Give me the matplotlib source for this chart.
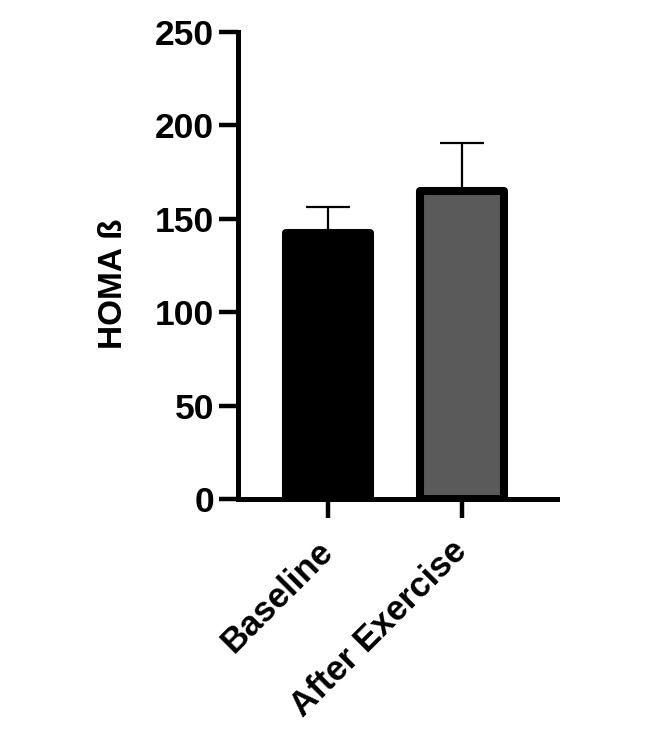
import numpy as np
import matplotlib
matplotlib.use('Agg')
import matplotlib.pyplot as plt

categories = ['Baseline', 'After Exercise']
means = [142.5, 164.8]
errors_up = [14.0, 25.7]
fill_colors = ['#000000', '#5a5a5a']
y_ticks = [0, 50, 100, 150, 200, 250]

plt.rcParams['font.family'] = ['Liberation Sans', 'DejaVu Sans']
plt.rcParams['font.weight'] = 'bold'

fig = plt.figure(figsize=(6.61, 7.38), dpi=100)
ax = fig.add_axes([0.3596, 0.3238, 0.4830, 0.6328])

x = np.arange(len(categories))
bars = ax.bar(x, means, width=0.63, color=fill_colors, edgecolor='black',
              linewidth=5.8, zorder=3)
for b in bars:
    b.set_joinstyle('round')
    b.set_capstyle('round')

ax.errorbar(x, means, yerr=[np.zeros(len(means)), errors_up], fmt='none',
            ecolor='black', elinewidth=1.6, capsize=16, capthick=1.6, zorder=2)

ax.set_xlim(-0.676, 1.707)
ax.set_ylim(0, 250)
ax.set_yticks(y_ticks)
ax.set_xticks(x)
ax.set_xticklabels(categories, rotation=45, ha='right', va='center',
                   rotation_mode='anchor', fontsize=25, fontweight='bold')
ax.tick_params(axis='y', labelsize=25.5, length=14, width=3.2, pad=3)
ax.tick_params(axis='x', length=14, width=3.2, pad=20)
for lbl in ax.get_yticklabels():
    lbl.set_fontweight('bold')

for side in ['top', 'right']:
    ax.spines[side].set_visible(False)
for side in ['left', 'bottom']:
    ax.spines[side].set_linewidth(3.6)

ax.set_ylabel('HOMA ß', fontsize=24, fontweight='bold')
ax.yaxis.set_label_coords(-0.34, 0.46)

fig.savefig('out.png', dpi=100)
